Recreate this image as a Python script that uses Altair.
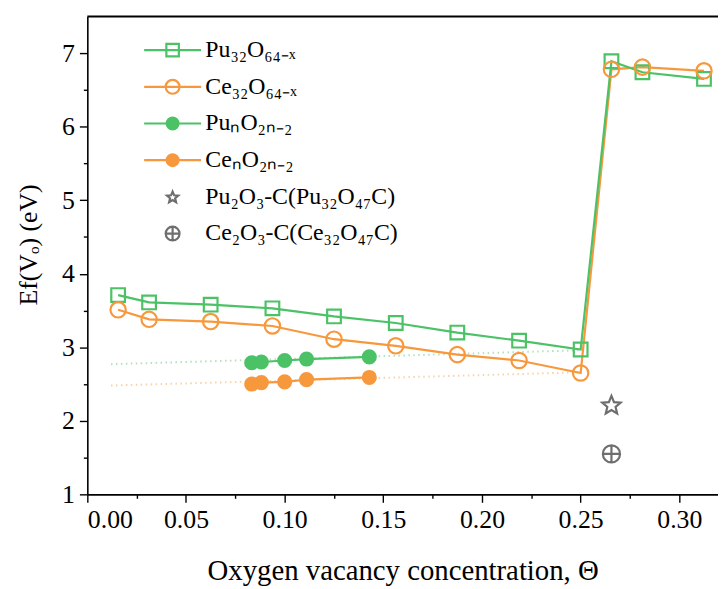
import math
import altair as alt
import pandas as pd

# ---------------- data ----------------
theta_32 = [0.0156, 0.0313, 0.0625, 0.0938, 0.1250, 0.1563, 0.1875, 0.2188, 0.2500, 0.2656, 0.2813, 0.3125]
pu32 = [3.71, 3.61, 3.58, 3.53, 3.42, 3.33, 3.20, 3.09, 2.97, 6.89, 6.74, 6.65]
ce32 = [3.51, 3.38, 3.35, 3.29, 3.11, 3.02, 2.90, 2.82, 2.65, 6.78, 6.81, 6.76]

theta_n = [0.0833, 0.0882, 0.1000, 0.1111, 0.1429]
pun = [2.79, 2.80, 2.82, 2.84, 2.87]
cen = [2.50, 2.52, 2.53, 2.56, 2.59]

theta_fit = [0.012, 0.250]
pu_fit = [2.77, 2.96]
ce_fit = [2.48, 2.66]

theta_c = [0.2656]
pu_c = [2.22]
ce_c = [1.55]

series_names = [
    "Pu₃₂O₆₄₋ₓ",
    "Ce₃₂O₆₄₋ₓ",
    "PuₙO₂ₙ₋₂",
    "CeₙO₂ₙ₋₂",
    "Pu₂O₃-C(Pu₃₂O₄₇C)",
    "Ce₂O₃-C(Ce₃₂O₄₇C)",
]

x_ticks = [0.0, 0.025, 0.05, 0.075, 0.10, 0.125, 0.15, 0.175, 0.20, 0.225, 0.25, 0.275, 0.30]
y_ticks = [1, 1.5, 2, 2.5, 3, 3.5, 4, 4.5, 5, 5.5, 6, 6.5, 7]
X_MAX = 0.3196
Y_MIN, Y_MAX = 1, 7.5

# ---------------- styles ----------------
GREEN = "#4cc266"
ORANGE = "#f7983c"
GRAY = "#6e6e6e"
FONT = "Liberation Serif"


def star_path(outer=1.0, inner=0.45, scale=1.0):
    pts = []
    for i in range(10):
        r = (outer if i % 2 == 0 else inner) * scale
        a = -math.pi / 2 + i * math.pi / 5
        pts.append((r * math.cos(a), r * math.sin(a) + 0.1 * scale))
    return "M" + "L".join(f"{x:.3f},{y:.3f}" for x, y in pts) + "Z"


def circle_path(r=1.0):
    return f"M{-r},0A{r},{r},0,1,1,{r},0A{r},{r},0,1,1,{-r},0Z"


STAR = star_path()
OPLUS = circle_path(1) + "M-1,0H1M0,-1V1"
LINE_STUB = "M-4.1,0H4.1"

# ---------------- table ----------------
rows = []
for name, xs, ys in [
    (series_names[0], theta_32, pu32),
    (series_names[1], theta_32, ce32),
    (series_names[2], theta_n, pun),
    (series_names[3], theta_n, cen),
    (series_names[4], theta_c, pu_c),
    (series_names[5], theta_c, ce_c),
]:
    for x, y in zip(xs, ys):
        rows.append({"series": name, "theta": x, "E": y})
df = pd.DataFrame(rows)

fit_rows = []
for name, ys in [("Pu fit", pu_fit), ("Ce fit", ce_fit)]:
    for x, y in zip(theta_fit, ys):
        fit_rows.append({"fit": name, "theta": x, "E": y})
fit_df = pd.DataFrame(fit_rows)

is_major_x = "abs(datum.value*20 - round(datum.value*20)) < 0.001"
is_major_y = "abs(datum.value - round(datum.value)) < 0.001"

x_enc = alt.X(
    "theta:Q",
    scale=alt.Scale(domain=[0, X_MAX], nice=False, zero=False),
    axis=alt.Axis(
        title="Oxygen vacancy concentration, Θ",
        values=x_ticks,
        labelExpr=f"{is_major_x} ? format(datum.value, '.2f') : ''",
        tickSize={"condition": {"test": is_major_x, "value": 8}, "value": 4},
        labelOverlap=False,
        labelPadding=4,
        titlePadding=25,
        titleFontSize=29,
    ),
)
y_enc = alt.Y(
    "E:Q",
    scale=alt.Scale(domain=[Y_MIN, Y_MAX], nice=False, zero=False),
    axis=alt.Axis(
        title="Ef(Vₒ) (eV)",
        values=y_ticks,
        labelExpr=f"{is_major_y} ? format(datum.value, 'd') : ''",
        tickSize={"condition": {"test": is_major_y, "value": 8}, "value": 4},
        labelOverlap=False,
        labelPadding=5,
        titlePadding=20,
        titleY=230,
    ),
)

base = alt.Chart(df)
layers = []

# dotted trend lines
for name, col in [("Pu fit", GREEN), ("Ce fit", ORANGE)]:
    layers.append(
        alt.Chart(fit_df)
        .transform_filter(alt.datum.fit == name)
        .mark_line(strokeDash=[1.5, 3.5], strokeWidth=2, opacity=0.45)
        .encode(x=x_enc, y=y_enc, stroke=alt.value(col))
    )

line_specs = [
    (series_names[1], ORANGE),
    (series_names[0], GREEN),
    (series_names[2], GREEN),
    (series_names[3], ORANGE),
]
for name, col in line_specs:
    layers.append(
        base.transform_filter(alt.datum.series == name)
        .mark_line(strokeWidth=2.2)
        .encode(x=x_enc, y=y_enc, stroke=alt.value(col))
    )

point_specs = [
    (series_names[0], "square", GREEN, "transparent", 190),
    (series_names[1], "circle", ORANGE, "transparent", 240),
    (series_names[2], "circle", GREEN, GREEN, 170),
    (series_names[3], "circle", ORANGE, ORANGE, 170),
    (series_names[4], STAR, GRAY, "transparent", 380),
    (series_names[5], OPLUS, GRAY, "transparent", 300),
]
for name, shp, stroke, fill, size in point_specs:
    layers.append(
        base.transform_filter(alt.datum.series == name)
        .mark_point(strokeWidth=2.2, opacity=1)
        .encode(
            x=x_enc,
            y=y_enc,
            shape=alt.value(shp),
            stroke=alt.value(stroke),
            fill=alt.value(fill),
            size=alt.value(size),
        )
    )

# legend (symbols: line stub + marker)
legend_shapes = [
    LINE_STUB + "M-0.9,-0.9H0.9V0.9H-0.9Z",
    LINE_STUB + circle_path(1.0),
    LINE_STUB + circle_path(0.85),
    LINE_STUB + circle_path(0.85),
    star_path(scale=0.85),
    OPLUS,
]
legend_stroke = [GREEN, ORANGE, GREEN, ORANGE, GRAY, GRAY]
legend_fill = ["transparent", "transparent", GREEN, ORANGE, "transparent", "transparent"]

leg = alt.Legend(
    title=None,
    orient="none",
    legendX=74,
    legendY=22,
    labelFont=FONT,
    labelFontSize=24,
    labelColor="black",
    labelOffset=21,
    rowPadding=13,
    symbolSize=196,
    symbolStrokeWidth=2.2,
    symbolOpacity=1,
    labelLimit=400,
)
legend_df = df.groupby("series", sort=False).head(1)
layers.append(
    alt.Chart(legend_df)
    .mark_point(opacity=0)
    .encode(
        x=x_enc,
        y=y_enc,
        shape=alt.Shape("series:N", scale=alt.Scale(domain=series_names, range=legend_shapes), legend=leg, sort=series_names),
        stroke=alt.Stroke("series:N", scale=alt.Scale(domain=series_names, range=legend_stroke), legend=leg, sort=series_names),
        fill=alt.Fill("series:N", scale=alt.Scale(domain=series_names, range=legend_fill), legend=leg, sort=series_names),
    )
)

# top frame line at the top of the value range
layers.append(
    alt.Chart(pd.DataFrame({"E": [Y_MAX]}))
    .mark_rule(color="black", strokeWidth=2)
    .encode(y=alt.Y("E:Q", scale=alt.Scale(domain=[Y_MIN, Y_MAX], nice=False, zero=False)))
)

chart = (
    alt.layer(*layers)
    .properties(
        width=636,
        height=482,
        autosize=alt.AutoSizeParams(type="none"),
        padding={"left": 80, "top": 6, "right": 0, "bottom": 95},
    )
    .configure_view(stroke=None)
    .configure_axis(
        labelFont=FONT,
        titleFont=FONT,
        labelFontSize=26,
        titleFontSize=26,
        titleFontWeight="normal",
        labelColor="black",
        titleColor="black",
        domainColor="black",
        tickColor="black",
        domainWidth=1.6,
        tickWidth=1.4,
        grid=False,
    )
)

chart.save("out.html", embed_options={"renderer": "svg", "actions": False})
